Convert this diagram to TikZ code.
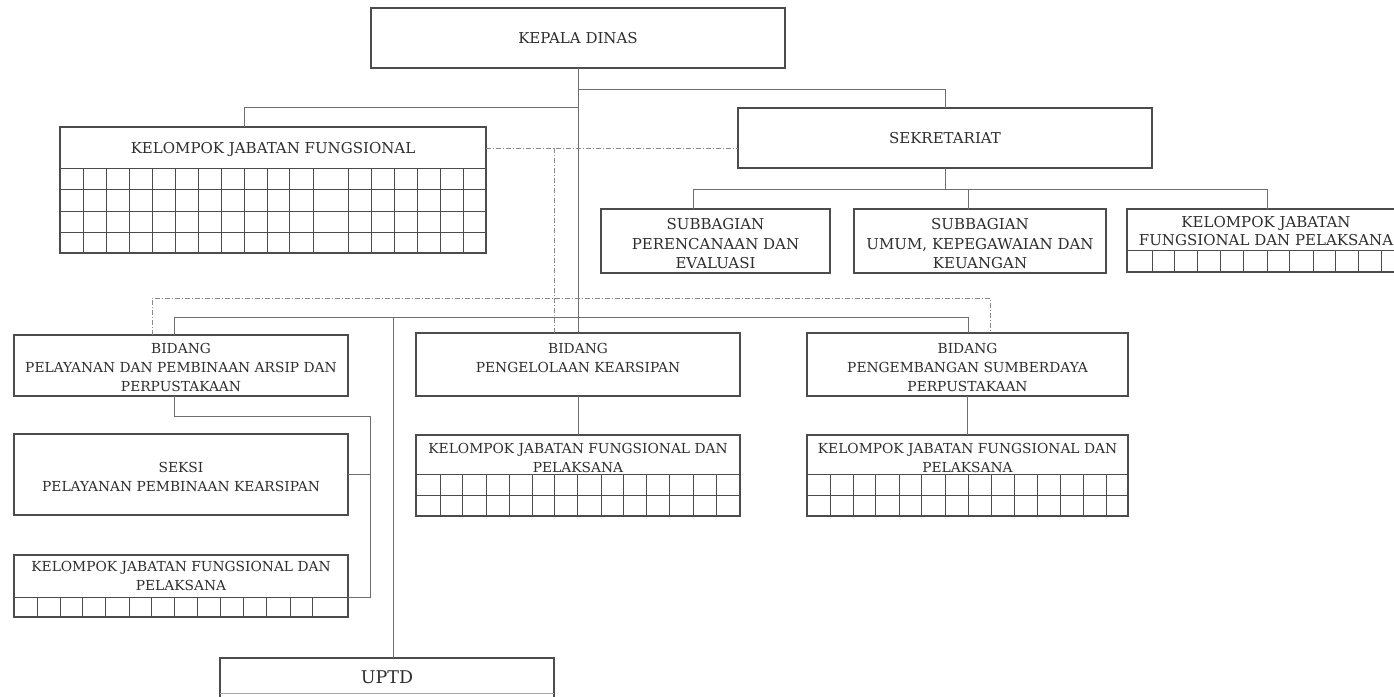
\documentclass[tikz,border=0pt]{standalone}
\usepackage{fontspec}
\setmainfont{DejaVu Serif}
\definecolor{boxc}{HTML}{4C4C4C}
\definecolor{linec}{HTML}{6E6E6E}
\definecolor{dashc}{HTML}{8A8A8A}
\definecolor{txtc}{HTML}{2E2E2E}
% box from corner (x1,y1) to (x2,y2), y measured downwards
\newcommand\mkbox[5]{\node[box, minimum width={(#4)-(#2)}, minimum height={(#5)-(#3)}] (#1) at ({((#2)+(#4))/2},{((#3)+(#5))/2}) {};}
\begin{document}
\begin{tikzpicture}[x=1pt,y=-1pt,
  box/.style={draw=boxc, line width=1.3pt, inner sep=0pt, outer sep=0pt},
  lbl/.style={text=txtc, align=center, inner sep=0pt, font=\fontsize{13.8}{19}\selectfont},
  lblL/.style={lbl, font=\fontsize{15}{19.5}\selectfont},
  conn/.style={draw=linec, line width=0.9pt},
  dd/.style={draw=dashc, line width=0.9pt, dash pattern=on 5pt off 2pt on 1pt off 2pt},
  gridl/.style={draw=boxc, line width=0.9pt}]
\useasboundingbox (0,0) rectangle (1394,696);
\fill[white] (0,0) rectangle (1394,696);

% ---- boxes ----
\mkbox{kd}{371}{8}{785}{68}
\mkbox{sek}{738}{108}{1152}{168}
\mkbox{kjf}{60}{127}{486}{253}
\mkbox{sb1}{601}{209}{830}{273}
\mkbox{sb2}{854}{209}{1106}{273}
\mkbox{kjfs}{1127}{209}{1400}{272}
\mkbox{b1}{14}{335}{348}{396}
\mkbox{b2}{416}{333}{740}{396}
\mkbox{b3}{807}{333}{1128}{396}
\mkbox{kjf2}{416}{435}{740}{516}
\mkbox{kjf3}{807}{435}{1128}{516}
\mkbox{sk}{14}{434}{348}{515}
\mkbox{kjf1}{14}{555}{348}{617}
\mkbox{up}{220}{658}{554}{704}

% ---- grids ----
\foreach \y in {168,189,211,232} \draw[gridl] (60,\y) -- (486,\y);
\foreach \x in {83,106,129,152,175,198,221,244,267,289,313,348,371,394,417,440,463}
  \draw[gridl] (\x,168) -- (\x,253);
\draw[gridl] (1127,250) -- (1400,250);
\foreach \x in {1152,1174,1197,1220,1243,1267,1289,1313,1335,1358,1381}
  \draw[gridl] (\x,250) -- (\x,272);
\foreach \y in {474,495} \draw[gridl] (416,\y) -- (740,\y);
\foreach \x in {440,462,486,509,532,554,577,601,623,646,669,693,716}
  \draw[gridl] (\x,474) -- (\x,516);
\foreach \y in {474,495} \draw[gridl] (807,\y) -- (1128,\y);
\foreach \x in {830,853,875,899,921,945,968,991,1014,1037,1060,1083,1106}
  \draw[gridl] (\x,474) -- (\x,516);
\draw[gridl] (14,597) -- (348,597);
\foreach \x in {37,60,82,105,129,151,174,197,220,243,266,290,312}
  \draw[gridl] (\x,597) -- (\x,617);
\draw[draw=boxc!50, line width=0.8pt] (220,693) -- (554,693);

% ---- labels ----
\node[lblL] (tkd) at (578,38) {KEPALA DINAS};
\node[lblL] (tsek) at (945,138) {SEKRETARIAT};
\node[lblL] (tkjf) at (273,149) {KELOMPOK JABATAN FUNGSIONAL};
\node[lblL] (tsb1) at (715.5,244) {SUBBAGIAN\\PERENCANAAN DAN\\EVALUASI};
\node[lblL] (tsb2) at (980,244) {SUBBAGIAN\\UMUM, KEPEGAWAIAN DAN\\KEUANGAN};
\node[lblL, font=\fontsize{15}{18}\selectfont] (tkjfs) at (1266,231) {KELOMPOK JABATAN\\FUNGSIONAL DAN PELAKSANA};
\node[lbl] (tb1) at (181,367) {BIDANG\\PELAYANAN DAN PEMBINAAN ARSIP DAN\\PERPUSTAKAAN};
\node[lbl] (tb2) at (578,357.5) {BIDANG\\PENGELOLAAN KEARSIPAN};
\node[lbl] (tb3) at (967.5,367) {BIDANG\\PENGEMBANGAN SUMBERDAYA\\PERPUSTAKAAN};
\node[lbl] (tkjf2) at (578,458) {KELOMPOK JABATAN FUNGSIONAL DAN\\PELAKSANA};
\node[lbl] (tkjf3) at (967.5,458) {KELOMPOK JABATAN FUNGSIONAL DAN\\PELAKSANA};
\node[lbl] (tsk) at (181,476.5) {SEKSI\\PELAYANAN PEMBINAAN KEARSIPAN};
\node[lbl] (tkjf1) at (181,575.5) {KELOMPOK JABATAN FUNGSIONAL DAN\\PELAKSANA};
\node[lbl, font=\fontsize{17.5}{20}\selectfont] (tup) at (387,677) {UPTD};

% ---- connectors ----
\draw[conn] (kd.south) -- (b2.north);
\draw[conn] (kd.south |- 0,89) -| (sek.north);
\draw[conn] (kd.south |- 0,107) -| (kjf.north -| 244,0);
\draw[conn] (sek.south) -- (sek.south |- 0,189);
\draw[conn] (sb1.north -| 693,0) -- ++(0,-20) -| (kjfs.north -| 1267,0);
\draw[conn] (sb2.north -| 968,0) -- ++(0,-20);
\draw[conn] (b1.north -| 174,0) -- ++(0,-18) -| (b3.north -| 968,0);
\coordinate (busL) at (393,317);
\draw[conn] (busL) -- (up.north -| busL);
\draw[conn] (b2.south) -- (kjf2.north);
\draw[conn] (b3.south) -- (kjf3.north);
\draw[conn] (b1.south -| 174,0) |- (370,416) |- (kjf1.east |- 0,597);
\coordinate (skj) at (370,474.5);
\draw[conn] (skj) -- (sk.east);

% dash-dot lines of coordination
\draw[dd] (kjf.east |- 0,148) -- (sek.west |- 0,148);
\coordinate (dv) at (554,148);
\draw[dd] (dv) -- (b2.north -| dv);
\draw[dd] (b1.north -| 152,0) -- ++(0,-37) -| (b3.north -| 990,0);
\end{tikzpicture}
\end{document}
